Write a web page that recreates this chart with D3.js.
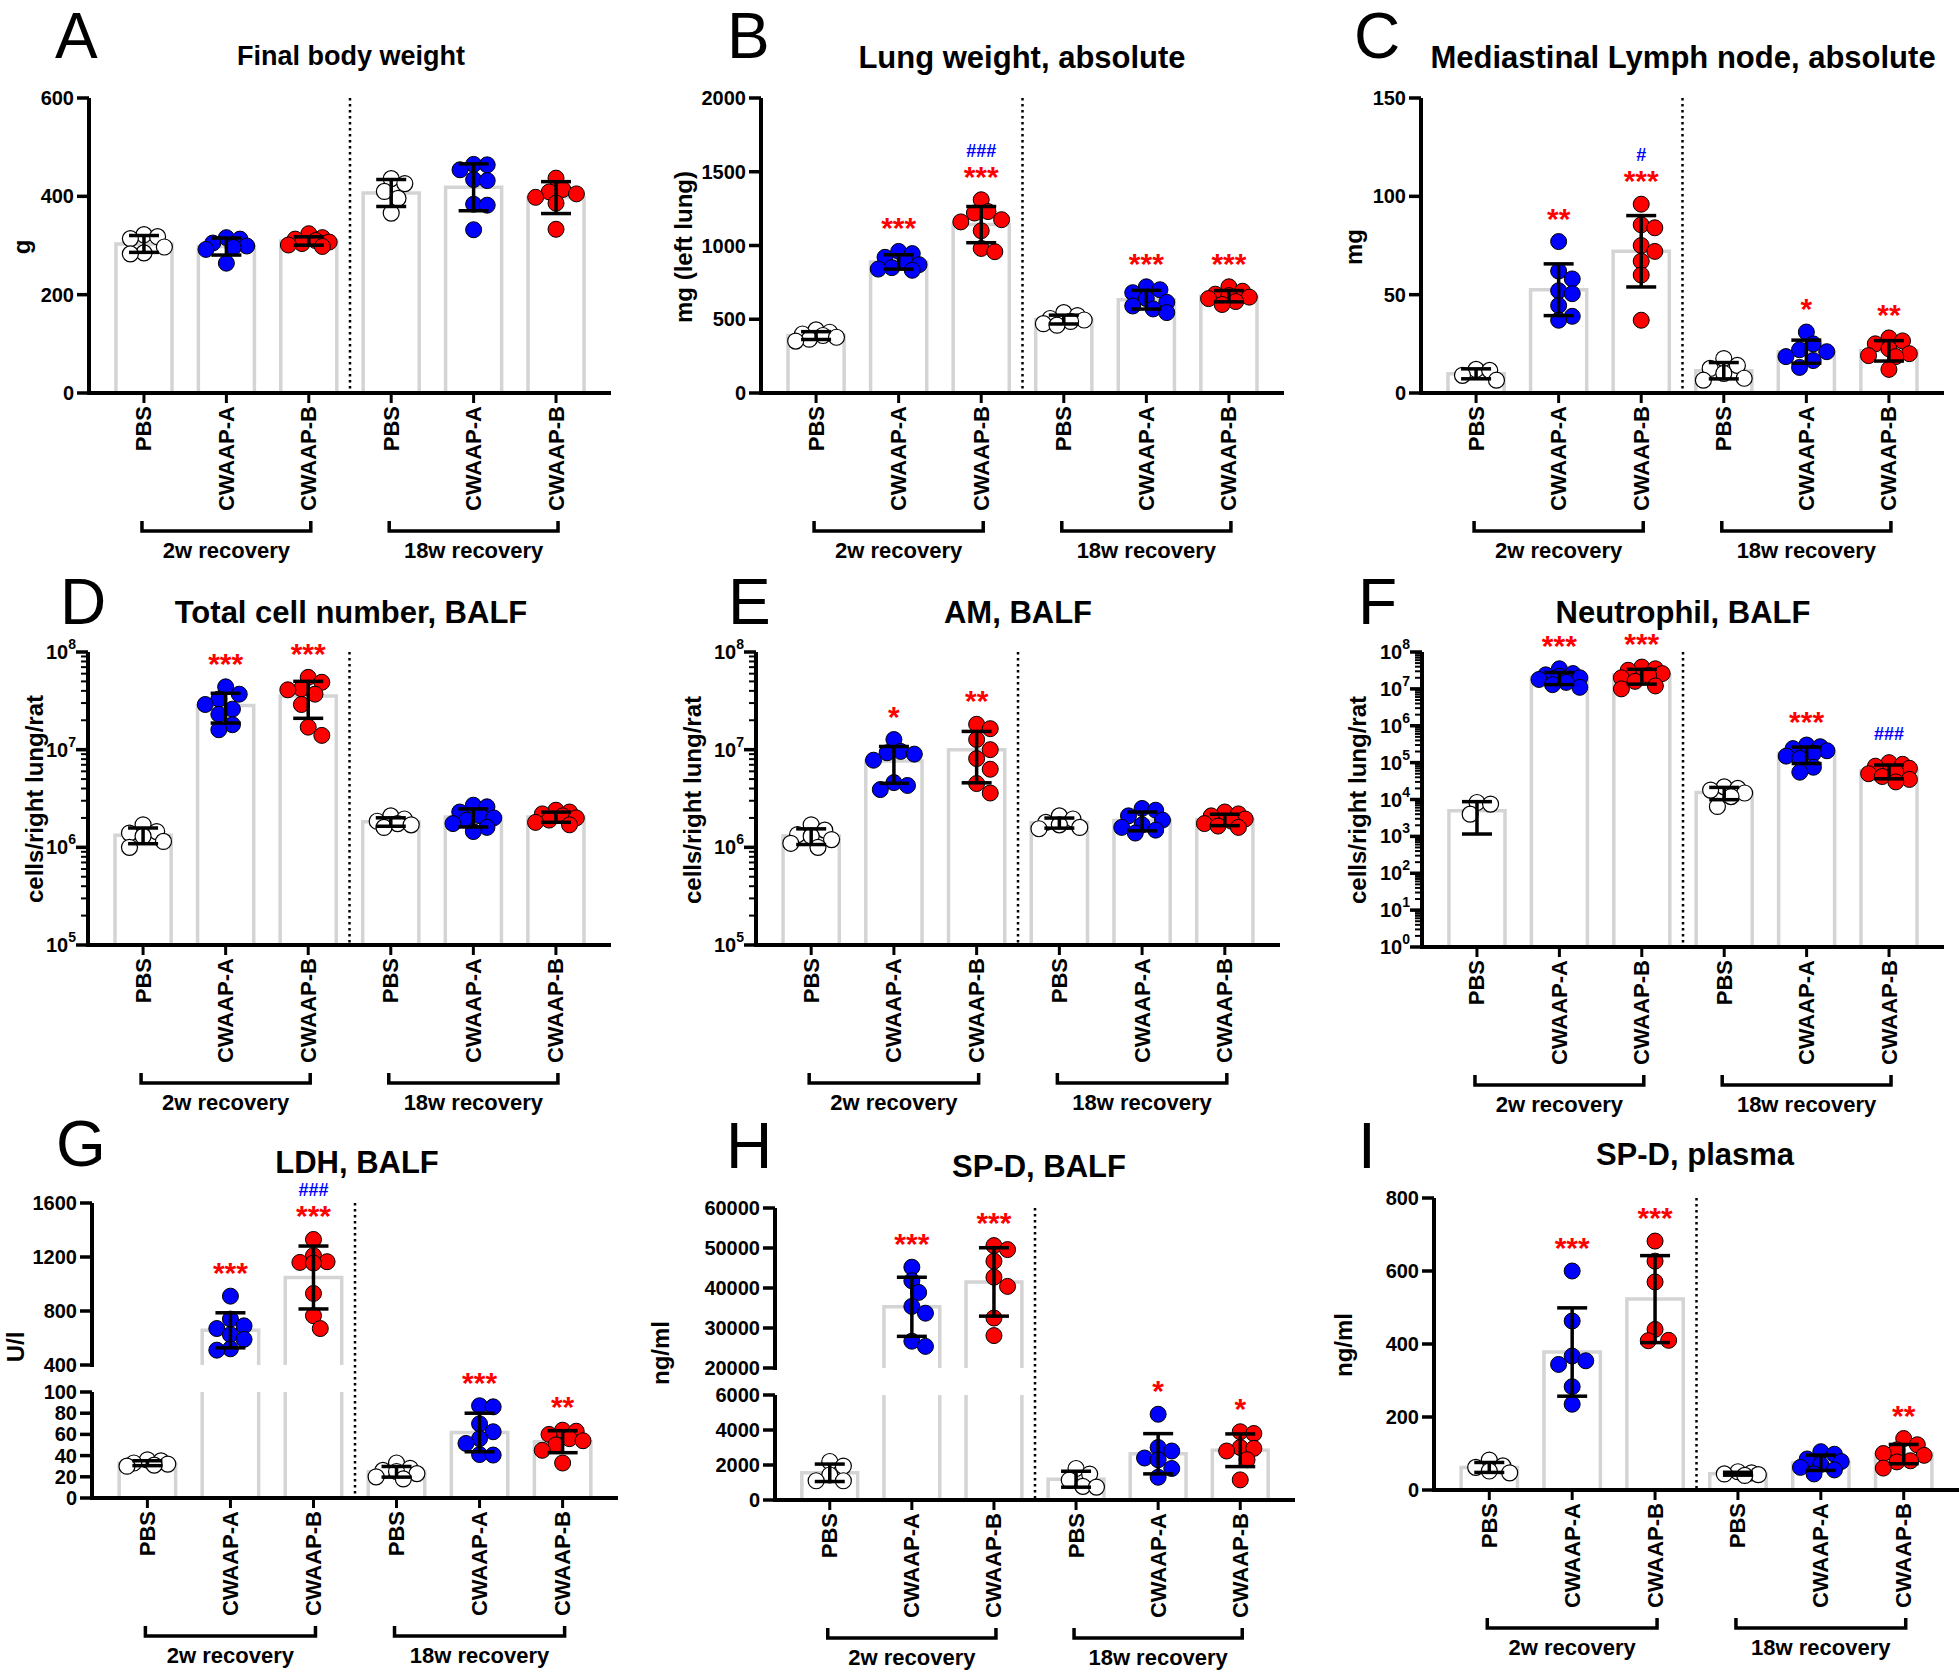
<!DOCTYPE html>
<html><head><meta charset="utf-8">
<script src="https://cdn.jsdelivr.net/npm/d3@7"></script>
<style>
body{margin:0;background:#fff;}
svg{display:block;}
text{font-family:"Liberation Sans",Arial,Helvetica,sans-serif;}
</style></head><body>
<svg id="chart" width="1959" height="1674"></svg>
<script>
// ---------- DATA ----------
const categories = ["PBS","CWAAP-A","CWAAP-B","PBS","CWAAP-A","CWAAP-B"];
const recoveryGroups = ["2w recovery","18w recovery"];
const dotKinds = ["open","blue","red","open","blue","red"];

const bodyWeightTicks = [0,200,400,600];
const bodyWeight = [
 [322,318,314,297,285,283],
 [316,313,305,299,296,292,264],
 [324,316,313,310,307,304,301,298],
 [436,426,410,396,366],
 [465,464,454,434,432,384,382,332],
 [437,414,409,405,398,386,333]
];

const lungWeightTicks = [0,500,1000,1500,2000];
const lungWeight = [
 [428,412,400,390,378,365,352],
 [960,945,920,890,870,850,840,832],
 [1310,1230,1220,1175,1160,1100,980,958],
 [545,525,505,495,485,470,460],
 [720,700,680,640,615,590,570,545],
 [720,690,670,660,650,640,620,600]
];
const lungStars = ["","***","***","","***","***"];
const lungHashes = ["","","###","","",""];

const lymphTicks = [0,50,100,150];
const lymphNode = [
 [12,11.5,9,6.5],
 [77,62,58,52,50.5,44.5,39,37],
 [96,85.5,84,75,72,67,60,37],
 [17.5,14,12.5,10,7.5,6.5],
 [31,25,22,21,18.5,16.5,13],
 [28,26.5,25,22.5,20,19,18.5,12]
];
const lymphStars = ["","**","***","","*","**"];
const lymphHashes = ["","","#","","",""];

const cellTicks = [1e5,1e6,1e7,1e8];
const totalCells = [
 [1.7e6,1.45e6,1.4e6,1.3e6,1.15e6,1.0e6],
 [4.4e7,3.7e7,3.3e7,2.9e7,2.6e7,2.3e7,1.8e7,1.6e7],
 [5.5e7,4.9e7,4.2e7,4.1e7,3.7e7,2.9e7,1.7e7,1.4e7],
 [2.1e6,1.95e6,1.85e6,1.75e6,1.7e6,1.6e6],
 [2.7e6,2.6e6,2.3e6,2.1e6,2.0e6,1.9e6,1.75e6,1.6e6,1.45e6],
 [2.4e6,2.3e6,2.2e6,2.1e6,2.0e6,1.9e6,1.8e6,1.7e6]
];
const totalStars = ["","***","***","","",""];

const amCells = [
 [1.7e6,1.5e6,1.35e6,1.3e6,1.2e6,1.1e6,1.0e6],
 [1.27e7,9.6e6,9.3e6,9.0e6,7.8e6,4.6e6,4.3e6,3.9e6],
 [1.82e7,1.64e7,1.27e7,1.0e7,8.1e6,6.3e6,4.5e6,3.6e6],
 [2.1e6,1.95e6,1.8e6,1.7e6,1.6e6,1.55e6],
 [2.5e6,2.4e6,2.1e6,1.9e6,1.7e6,1.6e6,1.5e6,1.4e6],
 [2.3e6,2.2e6,2.1e6,1.95e6,1.85e6,1.75e6,1.65e6,1.6e6]
];
const amStars = ["","*","**","","",""];

const neutroTicks = [1e0,1e1,1e2,1e3,1e4,1e5,1e6,1e7,1e8];
const neutrophils = [
 [8300,7500,4000,0],
 [3.5e7,2.6e7,2.4e7,2.2e7,2.0e7,1.8e7,1.5e7,1.3e7,1.1e7],
 [3.9e7,3.5e7,3.2e7,2.6e7,2.3e7,2.0e7,1.6e7,1.2e7,1.0e7],
 [2.2e4,2.0e4,1.8e4,1.5e4,1.2e4,6.5e3],
 [3.0e5,2.7e5,2.4e5,2.1e5,1.8e5,1.5e5,1.3e5,7.5e4,5.5e4],
 [1.0e5,9.0e4,8.0e4,7.0e4,5.5e4,5.0e4,4.2e4,3.5e4,3.0e4]
];
const neutroStars = ["","***","***","","***",""];
const neutroHashes = ["","","","","","###"];

const ldhTicksUpper = [400,800,1200,1600];
const ldhTicksLower = [0,20,40,60,80,100];
const ldh = [
 [36,35,33,32,31,30],
 [910,740,690,670,625,590,520,510],
 [1330,1210,1165,1160,1155,930,765,670],
 [33,28,26,25,23,20,18],
 [87,86,70,62.5,56,51.5,41,40.5],
 [64,63,60,56,54,50,45,33]
];
const ldhStars = ["","***","***","","***","**"];
const ldhHashes = ["","","###","","",""];

const spdBalfTicksUpper = [20000,30000,40000,50000,60000];
const spdBalfTicksLower = [0,2000,4000,6000];
const spdBalf = [
 [2200,1940,1430,1100,1100],
 [45200,41800,38900,35400,33700,26700,25400],
 [50600,49600,46700,42700,40400,32500,28100],
 [1800,1480,1140,780,740],
 [4900,3000,2800,2400,2300,1800,1300],
 [3900,3800,3000,2950,2800,2300,1150]
];
const spdBalfStars = ["","***","***","","*","*"];

const spdPlasmaTicks = [0,200,400,600,800];
const spdPlasma = [
 [82,66,62,52,47],
 [600,463,367,354,344,283,235],
 [682,627,570,440,409,410],
 [50,47,44,42,40],
 [105,98,85,78,70,62,55,44],
 [141,124,110,100,95,80,77,60]
];
const spdPlasmaStars = ["","***","***","","","**"];

const none = ["","","","","",""];

// ---------- PANEL CONFIG ----------
const panels = [
 {letter:"A", title:"Final body weight", yLabel:"g", data:bodyWeight, stars:none, hashes:none,
  scale:{type:"linear", domain:[0,600], ticks:bodyWeightTicks},
  L:{ax:89,xEnd:611,top:98,bot:393, tx:351,ty:65,ts:27, lx:55,ly:58, yx:21,yy:247}},
 {letter:"B", title:"Lung weight, absolute", yLabel:"mg (left lung)", data:lungWeight, stars:lungStars, hashes:lungHashes,
  scale:{type:"linear", domain:[0,2000], ticks:lungWeightTicks},
  L:{ax:761,xEnd:1284,top:98,bot:393, tx:1022,ty:68,ts:31, lx:727,ly:58, yx:683,yy:247}},
 {letter:"C", title:"Mediastinal Lymph node, absolute", yLabel:"mg", data:lymphNode, stars:lymphStars, hashes:lymphHashes,
  scale:{type:"linear", domain:[0,150], ticks:lymphTicks},
  L:{ax:1421,xEnd:1944,top:98,bot:393, tx:1683,ty:68,ts:31, lx:1354,ly:58, yx:1353,yy:247}},
 {letter:"D", title:"Total cell number, BALF", yLabel:"cells/right lung/rat", data:totalCells, stars:totalStars, hashes:none,
  scale:{type:"log", domain:[1e5,1e8], ticks:cellTicks},
  L:{ax:88,xEnd:611,top:652,bot:945, tx:351,ty:623,ts:31, lx:60,ly:624, yx:34,yy:799}},
 {letter:"E", title:"AM, BALF", yLabel:"cells/right lung/rat", data:amCells, stars:amStars, hashes:none,
  scale:{type:"log", domain:[1e5,1e8], ticks:cellTicks},
  L:{ax:756,xEnd:1280,top:652,bot:945, tx:1018,ty:623,ts:31, lx:728,ly:624, yx:692,yy:800}},
 {letter:"F", title:"Neutrophil, BALF", yLabel:"cells/right lung/rat", data:neutrophils, stars:neutroStars, hashes:neutroHashes,
  scale:{type:"log", domain:[1e0,1e8], ticks:neutroTicks},
  L:{ax:1422,xEnd:1944,top:652,bot:947, tx:1683,ty:623,ts:31, lx:1358,ly:624, yx:1357,yy:800}},
 {letter:"G", title:"LDH, BALF", yLabel:"U/l", data:ldh, stars:ldhStars, hashes:ldhHashes,
  scale:{type:"broken", segments:[{domain:[400,1600], range:[1365,1203], ticks:ldhTicksUpper},{domain:[0,100], range:[1498,1392], ticks:ldhTicksLower}]},
  L:{ax:92,xEnd:618,top:1203,bot:1498, tx:357,ty:1173,ts:31, lx:56,ly:1166, yx:15,yy:1347}},
 {letter:"H", title:"SP-D, BALF", yLabel:"ng/ml", data:spdBalf, stars:spdBalfStars, hashes:none,
  scale:{type:"broken", segments:[{domain:[20000,60000], range:[1368,1208], ticks:spdBalfTicksUpper},{domain:[0,6000], range:[1500,1395], ticks:spdBalfTicksLower}]},
  L:{ax:775,xEnd:1295,top:1208,bot:1500, tx:1039,ty:1177,ts:31, lx:726,ly:1168, yx:660,yy:1353}},
 {letter:"I", title:"SP-D, plasma", yLabel:"ng/ml", data:spdPlasma, stars:spdPlasmaStars, hashes:none,
  scale:{type:"linear", domain:[0,800], ticks:spdPlasmaTicks},
  L:{ax:1434,xEnd:1959,top:1198,bot:1490, tx:1695,ty:1165,ts:31, lx:1358,ly:1168, yx:1343,yy:1345}}
];

const dotFill = {open:"#ffffff", blue:"#0000ff", red:"#ff0000"};
const svg = d3.select("#chart");
const R = 8;

function mean(a){return d3.mean(a);}
function sd(a){return d3.deviation(a);}

// compact scatter layout: spread dots sideways within a limited width, allowing some overlap
function swarm(vals, cx, yOf, valid){
  const pts = vals.filter(valid).map(v=>({v, y:yOf(v)})).sort((a,b)=>a.y-b.y);
  const placed=[]; const minD = 2*R*0.82; const stepX = R*0.85; const maxK = 6;
  for(const p of pts){
    let best = null, bestScore = -1;
    for(let k=0;k<=maxK;k++){
      const off = k===0?0:(k%2===1?1:-1)*Math.ceil(k/2)*stepX;
      const dmin = placed.length ? d3.min(placed, q=>Math.hypot(q.x-(cx+off), q.y-p.y)) : Infinity;
      if(dmin >= minD){ best = off; break; }
      if(dmin > bestScore){ bestScore = dmin; best = off; }
    }
    p.x = cx + best;
    placed.push(p);
  }
  return placed;
}

function drawPanel(p){
  const L = p.L;
  const g = svg.append("g");
  const x = d3.scalePoint().domain(d3.range(categories.length)).range([L.ax, L.xEnd]).padding(0.667);
  const step = x.step();
  const barW = step*0.68;
  let segs, yOf, valid = v=>true, isLog=false;
  if(p.scale.type==="broken"){
    segs = p.scale.segments.map(s=>({...s, sc:d3.scaleLinear().domain(s.domain).range(s.range)}));
    yOf = v=>{
      for(const s of segs){ if(v>=s.domain[0]-1e-9 && v<=s.domain[1]+1e-9) return s.sc(v); }
      return v>segs[1].domain[1] ? segs[0].sc(segs[0].domain[0]) : segs[1].sc(segs[1].domain[1]);
    };
  } else if(p.scale.type==="log"){
    isLog = true;
    const sc = d3.scaleLog().domain(p.scale.domain).range([L.bot, L.top]);
    segs = [{domain:p.scale.domain, range:[L.bot,L.top], ticks:p.scale.ticks, sc}];
    yOf = v=>sc(Math.max(v, p.scale.domain[0]));
    valid = v=>v>=p.scale.domain[0];
  } else {
    const sc = d3.scaleLinear().domain(p.scale.domain).range([L.bot, L.top]);
    segs = [{domain:p.scale.domain, range:[L.bot,L.top], ticks:p.scale.ticks, sc}];
    yOf = v=>sc(v);
  }
  const yBase = L.bot;

  // dotted divider
  const midX = (x(2)+x(3))/2;
  g.append("line").attr("x1",midX).attr("x2",midX).attr("y1",L.top).attr("y2",yBase)
   .attr("stroke","#000").attr("stroke-width",2.5).attr("stroke-dasharray","2.5,3.5");

  // bars
  p.data.forEach((vals,i)=>{
    const m = mean(vals);
    const x0 = x(i)-barW/2, x1 = x(i)+barW/2;
    segs.forEach(s=>{
      if(m <= s.domain[0]) return;
      const yb = s.sc(s.domain[0]);
      const cut = m > s.domain[1];
      const yt = s.sc(Math.min(m, s.domain[1]));
      const path = cut ? `M${x0},${yb}V${yt}M${x1},${yt}V${yb}` : `M${x0},${yb}V${yt}H${x1}V${yb}`;
      g.append("path").attr("d",path).attr("fill","none").attr("stroke","#d4d4d4").attr("stroke-width",3.5);
    });
  });

  // dots
  p.data.forEach((vals,i)=>{
    const pts = swarm(vals, x(i), yOf, valid);
    const kind = dotKinds[i];
    g.selectAll(null).data(pts).enter().append("circle")
     .attr("cx",d=>d.x).attr("cy",d=>d.y).attr("r",R)
     .attr("fill",dotFill[kind]).attr("stroke","#000").attr("stroke-width",kind==="open"?1.2:1);
  });

  // error bars
  p.data.forEach((vals,i)=>{
    const m = mean(vals), s = sd(vals);
    const hi = m+s, lo = m-s;
    const cx = x(i), cw = 15;
    const yHi = yOf(hi);
    const loOk = !isLog || lo>p.scale.domain[0];
    const yLo = loOk ? yOf(lo) : yBase;
    g.append("line").attr("x1",cx).attr("x2",cx).attr("y1",yHi).attr("y2",yLo).attr("stroke","#000").attr("stroke-width",3.5);
    g.append("line").attr("x1",cx-cw).attr("x2",cx+cw).attr("y1",yHi).attr("y2",yHi).attr("stroke","#000").attr("stroke-width",3.5);
    if(loOk) g.append("line").attr("x1",cx-cw).attr("x2",cx+cw).attr("y1",yLo).attr("y2",yLo).attr("stroke","#000").attr("stroke-width",3.5);
  });

  // significance
  p.data.forEach((vals,i)=>{
    const top = yOf(d3.max(vals.filter(valid)));
    let c = top-30;
    if(p.stars[i]){
      g.append("text").attr("x",x(i)).attr("y",c+17).attr("text-anchor","middle")
       .attr("font-size",30).attr("font-weight","bold").attr("fill","#ff0000").text(p.stars[i]);
      c -= 20;
    }
    if(p.hashes[i]){
      g.append("text").attr("x",x(i)).attr("y",c+7).attr("text-anchor","middle")
       .attr("font-size",18).attr("font-weight","bold").attr("fill","#0000ff").text(p.hashes[i]);
    }
  });

  // y axis
  segs.forEach(s=>{
    g.append("line").attr("x1",L.ax).attr("x2",L.ax).attr("y1",s.range[1]).attr("y2",s.range[0]+2)
     .attr("stroke","#000").attr("stroke-width",4);
    if(isLog){
      const lo = Math.log10(s.domain[0]), hi = Math.log10(s.domain[1]);
      for(let d=lo; d<hi; d++) for(let k=2;k<=9;k++){
        const yy = s.sc(k*Math.pow(10,d));
        g.append("line").attr("x1",L.ax-7).attr("x2",L.ax).attr("y1",yy).attr("y2",yy).attr("stroke","#000").attr("stroke-width",2);
      }
    }
    s.ticks.forEach(t=>{
      const yy = s.sc(t);
      g.append("line").attr("x1",L.ax-12).attr("x2",L.ax).attr("y1",yy).attr("y2",yy).attr("stroke","#000").attr("stroke-width",3.5);
      const tx = g.append("text").attr("x",L.ax-15).attr("y",yy).attr("text-anchor","end")
        .attr("dominant-baseline","central").attr("font-size",20).attr("font-weight","bold");
      if(isLog){
        tx.append("tspan").text("10");
        tx.append("tspan").attr("dy",-8).attr("font-size",14).text(Math.round(Math.log10(t)));
        tx.attr("x",L.ax-12);
      } else tx.text(t);
    });
  });

  // x axis
  g.append("line").attr("x1",L.ax-2).attr("x2",L.xEnd).attr("y1",yBase).attr("y2",yBase).attr("stroke","#000").attr("stroke-width",4);
  categories.forEach((c,i)=>{
    g.append("line").attr("x1",x(i)).attr("x2",x(i)).attr("y1",yBase).attr("y2",yBase+10).attr("stroke","#000").attr("stroke-width",3);
    g.append("text").attr("transform",`translate(${x(i)},${yBase+13}) rotate(-90)`)
     .attr("text-anchor","end").attr("dominant-baseline","central")
     .attr("font-size",22).attr("font-weight","bold").text(c);
  });
  // brackets
  [[0,2],[3,5]].forEach((gr,j)=>{
    const xa = x(gr[0])-2, xb = x(gr[1])+2, yb = yBase+138;
    g.append("path").attr("d",`M${xa},${yb-10}V${yb}H${xb}V${yb-10}`).attr("fill","none").attr("stroke","#000").attr("stroke-width",3.5);
    g.append("text").attr("x",(x(gr[0])+x(gr[1]))/2).attr("y",yBase+165).attr("text-anchor","middle")
     .attr("font-size",22).attr("font-weight","bold").text(recoveryGroups[j]);
  });

  // title, letter, y label
  g.append("text").attr("x",L.tx).attr("y",L.ty).attr("text-anchor","middle").attr("font-size",L.ts).attr("font-weight","bold").text(p.title);
  g.append("text").attr("x",L.lx).attr("y",L.ly).attr("font-size",64).text(p.letter);
  g.append("text").attr("transform",`translate(${L.yx},${L.yy}) rotate(-90)`).attr("text-anchor","middle")
   .attr("dominant-baseline","central").attr("font-size",24).attr("font-weight","bold").text(p.yLabel);
}

panels.forEach(drawPanel);
</script></body></html>
